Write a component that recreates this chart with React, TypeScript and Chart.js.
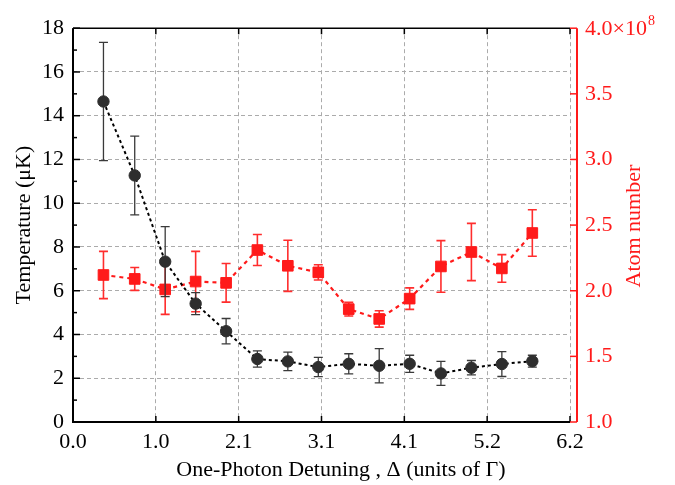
import React, { useEffect, useRef } from 'react';
import { Chart, registerables } from 'chart.js';

Chart.register(...registerables);

// ---------- data ----------
const detuning = [0.38, 0.77, 1.15, 1.53, 1.91, 2.30, 2.68, 3.06, 3.44, 3.82, 4.20, 4.59, 4.97, 5.35, 5.73];
const temperature = [14.65, 11.27, 7.33, 5.41, 4.15, 2.88, 2.77, 2.51, 2.66, 2.57, 2.66, 2.22, 2.48, 2.65, 2.78];
const temperatureErr = [2.7, 1.8, 1.6, 0.5, 0.58, 0.37, 0.42, 0.44, 0.46, 0.78, 0.39, 0.55, 0.33, 0.57, 0.27];
const atomNumber = [2.12e8, 2.09e8, 2.01e8, 2.07e8, 2.06e8, 2.31e8, 2.19e8, 2.14e8, 1.86e8, 1.785e8, 1.94e8, 2.185e8, 2.295e8, 2.17e8, 2.44e8];
const atomNumberErr = [0.18e8, 0.087e8, 0.19e8, 0.23e8, 0.147e8, 0.118e8, 0.195e8, 0.058e8, 0.052e8, 0.062e8, 0.082e8, 0.197e8, 0.218e8, 0.105e8, 0.177e8];

const xAxisMax = 6.2;
const xTickLabels = ['0.0', '1.0', '2.1', '3.1', '4.1', '5.2', '6.2'];
const tempMin = 0;
const tempMax = 18;
const tempStep = 2;
const atomMin = 1e8;
const atomMax = 4e8;
const atomStep = 0.5e8;
const atomTickLabels = ['1.0', '1.5', '2.0', '2.5', '3.0', '3.5', '4.0×10'];
const atomTopExponent = '8';

const xTitle = 'One-Photon Detuning , Δ (units of Γ)';
const leftTitle = 'Temperature (μK)';
const rightTitle = 'Atom number';

const FONT = "'Liberation Serif', 'Times New Roman', Times, serif";
const RED = '#ff1a1a';

Chart.defaults.font.family = FONT;

export default function App() {
  const ref = useRef<HTMLCanvasElement>(null);

  useEffect(() => {
    const canvas = ref.current;
    if (!canvas) return;

    const decorPlugin = {
      id: 'decor',
      beforeDatasetDraw(chart: any, args: any) {
        const meta = args.meta;
        const ds: any = chart.data.datasets[args.index];
        const yScale = chart.scales[meta.yAxisID];
        const ctx = chart.ctx;
        ctx.save();
        ctx.strokeStyle = ds.errorColor;
        ctx.lineWidth = ds.errorWidth;
        ctx.setLineDash([]);
        meta.data.forEach((pt: any, i: number) => {
          const v = ds.data[i].y;
          const e = ds.errors[i];
          const yt = yScale.getPixelForValue(v + e);
          const yb = yScale.getPixelForValue(v - e);
          const x = pt.x;
          const cw = 4.5;
          ctx.beginPath();
          ctx.moveTo(x, yt);
          ctx.lineTo(x, yb);
          ctx.moveTo(x - cw, yt);
          ctx.lineTo(x + cw, yt);
          ctx.moveTo(x - cw, yb);
          ctx.lineTo(x + cw, yb);
          ctx.stroke();
        });
        ctx.restore();
      },
      afterDraw(chart: any) {
        const ctx = chart.ctx;
        const { left, right, top, bottom } = chart.chartArea;
        const xs = chart.scales.x;
        const ys = chart.scales.y;
        const y2 = chart.scales.y2;
        ctx.save();
        ctx.setLineDash([]);
        // black frame: left, bottom, top
        ctx.strokeStyle = '#000';
        ctx.lineWidth = 2;
        ctx.beginPath();
        ctx.moveTo(left, top);
        ctx.lineTo(left, bottom);
        ctx.lineTo(right, bottom);
        ctx.stroke();
        ctx.lineWidth = 1.6;
        ctx.beginPath();
        ctx.moveTo(left, top);
        ctx.lineTo(right, top);
        ctx.stroke();
        // x ticks (inward, bottom and top)
        ctx.lineWidth = 1.5;
        xs.ticks.forEach((t: any) => {
          const px = xs.getPixelForValue(t.value);
          ctx.beginPath();
          ctx.moveTo(px, bottom);
          ctx.lineTo(px, bottom - 6);
          ctx.moveTo(px, top);
          ctx.lineTo(px, top + 6);
          ctx.stroke();
        });
        // left ticks major + minor
        ys.ticks.forEach((t: any) => {
          const py = ys.getPixelForValue(t.value);
          ctx.beginPath();
          ctx.moveTo(left, py);
          ctx.lineTo(left + 7, py);
          ctx.stroke();
          const mid = t.value + tempStep / 2;
          if (mid < tempMax) {
            const pm = ys.getPixelForValue(mid);
            ctx.beginPath();
            ctx.moveTo(left, pm);
            ctx.lineTo(left + 4, pm);
            ctx.stroke();
          }
        });
        // red right axis
        const rx = right + 7;
        ctx.strokeStyle = RED;
        ctx.lineWidth = 2;
        ctx.beginPath();
        ctx.moveTo(rx, top);
        ctx.lineTo(rx, bottom);
        ctx.stroke();
        ctx.lineWidth = 1.5;
        y2.ticks.forEach((t: any) => {
          const py = y2.getPixelForValue(t.value);
          ctx.beginPath();
          ctx.moveTo(rx, py);
          ctx.lineTo(rx - 7, py);
          ctx.stroke();
        });
        // top right label with superscript exponent
        ctx.fillStyle = RED;
        ctx.textBaseline = 'middle';
        ctx.textAlign = 'left';
        ctx.font = `22px ${FONT}`;
        const lastIdx = atomTickLabels.length - 1;
        const topY = y2.getPixelForValue(y2.ticks[lastIdx].value);
        const base = atomTickLabels[lastIdx];
        const lx = right + 15;
        ctx.fillText(base, lx, topY + 1);
        const w = ctx.measureText(base).width;
        ctx.font = `14px ${FONT}`;
        ctx.fillText(atomTopExponent, lx + w + 1, topY - 7);
        // titles
        ctx.font = `22px ${FONT}`;
        ctx.textBaseline = 'alphabetic';
        ctx.textAlign = 'center';
        ctx.fillStyle = '#000';
        ctx.fillText(xTitle, 341, 476);
        const cy = (top + bottom) / 2;
        ctx.save();
        ctx.translate(30, cy);
        ctx.rotate(-Math.PI / 2);
        ctx.fillText(leftTitle, 0, 0);
        ctx.restore();
        ctx.save();
        ctx.fillStyle = RED;
        ctx.translate(640, cy + 1);
        ctx.rotate(-Math.PI / 2);
        ctx.fillText(rightTitle, 0, 0);
        ctx.restore();
        ctx.restore();
      },
    };

    const tickFont = { family: FONT, size: 22 };

    const chart = new Chart(canvas, {
      type: 'line',
      data: {
        datasets: [
          {
            label: 'Temperature',
            data: detuning.map((x, i) => ({ x, y: temperature[i] })),
            yAxisID: 'y',
            borderColor: '#000',
            borderWidth: 2,
            borderDash: [3, 3],
            pointStyle: 'circle',
            pointRadius: 5.7,
            pointBackgroundColor: '#2e2e2e',
            pointBorderColor: '#2e2e2e',
            pointBorderWidth: 1,
            fill: false,
            tension: 0,
            errors: temperatureErr,
            errorColor: '#3a3a3a',
            errorWidth: 1.3,
          } as any,
          {
            label: 'Atom number',
            data: detuning.map((x, i) => ({ x, y: atomNumber[i] })),
            yAxisID: 'y2',
            borderColor: RED,
            borderWidth: 2.2,
            borderDash: [4, 4],
            pointStyle: 'rect',
            pointRadius: 7.5,
            pointBackgroundColor: RED,
            pointBorderColor: RED,
            pointBorderWidth: 1,
            fill: false,
            tension: 0,
            errors: atomNumberErr,
            errorColor: 'rgb(255,45,45)',
            errorWidth: 1.6,
          } as any,
        ],
      },
      options: {
        responsive: false,
        animation: false,
        layout: { padding: { top: 16, left: 0, right: 0, bottom: 0 } },
        plugins: {
          legend: { display: false },
          tooltip: { enabled: false },
          title: { display: false },
        },
        scales: {
          x: {
            type: 'linear',
            min: 0,
            max: xAxisMax,
            afterBuildTicks: (s: any) => {
              s.ticks = xTickLabels.map((_, i) => ({ value: (i * xAxisMax) / (xTickLabels.length - 1) }));
            },
            afterFit: (s: any) => {
              s.height = 63;
            },
            ticks: {
              callback: (_v: any, i: number) => xTickLabels[i],
              font: tickFont,
              color: '#000',
              padding: 7,
              maxRotation: 0,
              autoSkip: false,
            },
            grid: { color: '#ababab', lineWidth: 1, drawTicks: false },
            border: { display: false, dash: [4, 3] },
          },
          y: {
            type: 'linear',
            position: 'left',
            min: tempMin,
            max: tempMax,
            afterFit: (s: any) => {
              s.width = 73;
            },
            ticks: {
              stepSize: tempStep,
              font: tickFont,
              color: '#000',
              padding: 9,
              callback: (v: any) => String(v),
            },
            grid: { color: '#ababab', lineWidth: 1, drawTicks: false },
            border: { display: false, dash: [4, 3] },
          },
          y2: {
            type: 'linear',
            position: 'right',
            min: atomMin,
            max: atomMax,
            afterFit: (s: any) => {
              s.width = 105;
            },
            ticks: {
              stepSize: atomStep,
              font: tickFont,
              color: RED,
              padding: 15,
              callback: (_v: any, i: number) => (i === atomTickLabels.length - 1 ? '' : atomTickLabels[i]),
            },
            grid: { display: false, drawTicks: false },
            border: { display: false },
          },
        },
      },
      plugins: [decorPlugin],
    } as any);

    return () => {
      chart.destroy();
    };
  }, []);

  return (
    <div style={{ position: 'fixed', left: 0, top: 0, width: 675, height: 485, background: '#fff' }}>
      <canvas ref={ref} width={675} height={485} style={{ display: 'block', width: 675, height: 485 }} />
    </div>
  );
}
